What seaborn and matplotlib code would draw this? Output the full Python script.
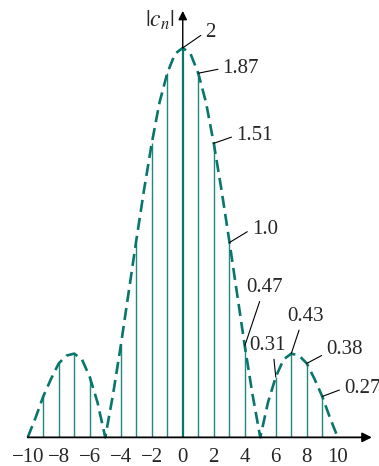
import numpy as np
import matplotlib
matplotlib.use("Agg")
import matplotlib.pyplot as plt
import seaborn as sns

# Line spectrum |c_n| with its (dashed) envelope
n_values = [-9, -8, -7, -6, -4, -3, -2, -1, 1, 2, 3, 4, 6, 7, 8, 9]
cn_values = [0.21, 0.38, 0.43, 0.31, 0.47, 1.0, 1.51, 1.87,
             1.87, 1.51, 1.0, 0.47, 0.31, 0.43, 0.38, 0.21]
c0 = 2.0

env_x = [-10, -9.5, -9, -8.5, -8, -7.5, -7, -6.5, -6, -5.5, -5,
         -4.5, -4, -3.5, -3, -2.5, -2, -1.5, -1, -0.5, 0,
         0.5, 1, 1.5, 2, 2.5, 3, 3.5, 4, 4.5, 5,
         5.5, 6, 6.5, 7, 7.5, 8, 8.5, 9, 9.5, 10]
env_y = [0.0, 0.10, 0.21, 0.30, 0.38, 0.42, 0.43, 0.40, 0.31, 0.18, 0.0,
         0.22, 0.47, 0.74, 1.01, 1.27, 1.51, 1.72, 1.87, 1.97, 2.0,
         1.97, 1.87, 1.72, 1.51, 1.27, 1.01, 0.74, 0.47, 0.22, 0.0,
         0.18, 0.31, 0.40, 0.43, 0.42, 0.38, 0.30, 0.21, 0.10, 0.0]

tick_values = list(range(-10, 11, 2))

# annotation texts and where they point
ann_text = ["2", "1.87", "1.51", "1.0", "0.47", "0.31", "0.43", "0.38", "0.27"]
ann_n = [0, 1, 2, 3, 4, 6, 7, 8, 9]

sns.set_style("white")
plt.rcParams['font.family'] = ['Liberation Serif', 'DejaVu Serif']
plt.rcParams['mathtext.fontset'] = 'stix'
plt.rcParams['axes.unicode_minus'] = True

TEAL = '#08766b'
STEM = '#23897e'

fig = plt.figure(figsize=(3.79, 4.66), dpi=100)
ax = fig.add_axes([0, 0, 1, 1])

# stems
ax.vlines(n_values, 0, cn_values, color=STEM, lw=1.0)
ax.vlines([0], 0, [c0], color=TEAL, lw=1.6)

# envelope
sns.lineplot(x=env_x, y=env_y, ax=ax, color=TEAL, lw=1.9,
             linestyle=(0, (4.6, 2.3)), sort=False)

# axes with arrows
ax.annotate('', xy=(12.2, 0), xytext=(-10, 0),
            arrowprops=dict(arrowstyle='-|>', color='black', lw=1.3,
                            mutation_scale=14, shrinkA=0, shrinkB=0))
ax.annotate('', xy=(0, 2.19), xytext=(0, c0),
            arrowprops=dict(arrowstyle='-|>', color='black', lw=1.0,
                            mutation_scale=13, shrinkA=0, shrinkB=0))
ax.text(-0.55, 2.14, r'$|c_n|$', ha='right', va='center', fontsize=17)

# value labels with leader lines
text_pos = [(1.45, 2.08), (2.57, 1.895), (3.44, 1.55), (4.45, 1.07),
            (4.09, 0.77), (4.30, 0.474), (6.75, 0.623), (9.25, 0.452), (10.4, 0.252)]
rel = [(0, 0.5), (0, 0.5), (0, 0.5), (0, 0.5), (0.41, 0),
       (0.66, 0), (0.36, 0), (0, 0.3), (0, 0.5)]
heights = dict(zip(n_values, cn_values))
heights[0] = c0
for txt, n, pos, rp in zip(ann_text, ann_n, text_pos, rel):
    ax.annotate(txt, xy=(n, heights[n]), xytext=pos, ha='left', va='center',
                fontsize=15,
                arrowprops=dict(arrowstyle='-', color='black', lw=0.8,
                                relpos=rp, shrinkA=1, shrinkB=0))

ax.set_xlim(-11.79, 12.66)
ax.set_ylim(-0.147, 2.246)
ax.set_xticks(tick_values)
ax.set_yticks([])
ax.spines['bottom'].set_position(('data', 0))
for s in ['top', 'right', 'left', 'bottom']:
    ax.spines[s].set_visible(False)
ax.tick_params(axis='x', length=0, pad=8, labelsize=15)

fig.savefig('out.png', dpi=100)
